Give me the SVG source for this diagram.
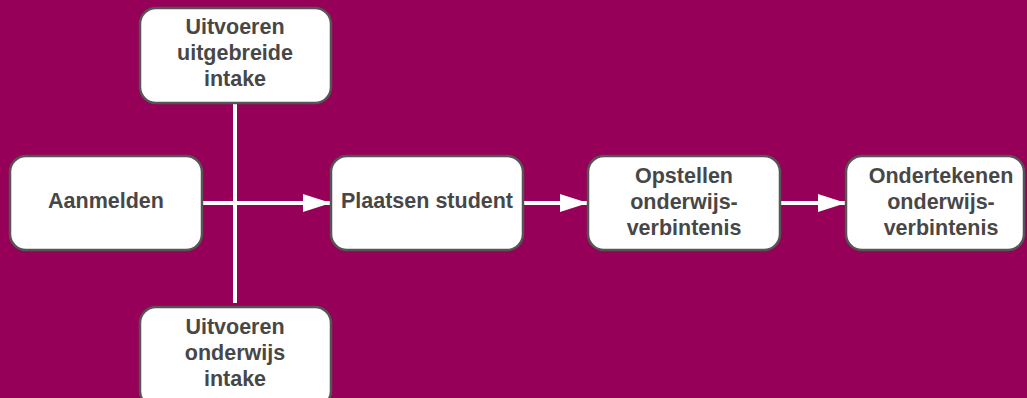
<svg xmlns="http://www.w3.org/2000/svg" width="1027" height="398" viewBox="0 0 1027 398">
<defs>
<style>
.box{fill:#ffffff;stroke:#555555;stroke-width:2.5}
.t{font-family:"Liberation Sans",Arial,sans-serif;font-weight:bold;font-size:21.5px;fill:#474747;text-anchor:middle}
.c{stroke:#ffffff;stroke-width:4;fill:none}
</style>
<marker id="ah" markerUnits="userSpaceOnUse" markerWidth="28" markerHeight="20" refX="27" refY="10" orient="auto">
<path d="M0,1 L28,10 L0,19 Z" fill="#ffffff"/>
</marker>
</defs>
<rect width="1027" height="398" fill="#960058"/>
<g id="connectors">
<line class="c" x1="235" y1="103" x2="235" y2="303"/>
<line class="c" x1="202" y1="203" x2="330" y2="203" marker-end="url(#ah)"/>
<line class="c" x1="523" y1="203" x2="587" y2="203" marker-end="url(#ah)"/>
<line class="c" x1="780" y1="203" x2="845" y2="203" marker-end="url(#ah)"/>
</g>
<g id="n-intake-uitgebreid">
<rect class="box" x="140" y="8" width="191" height="95" rx="16"/>
<text class="t" x="235" y="34">Uitvoeren</text>
<text class="t" x="235" y="60">uitgebreide</text>
<text class="t" x="235" y="86">intake</text>
</g>
<g id="n-aanmelden">
<rect class="box" x="10" y="156" width="192" height="94" rx="16"/>
<text class="t" x="106" y="208">Aanmelden</text>
</g>
<g id="n-plaatsen">
<rect class="box" x="331" y="156" width="192" height="94" rx="16"/>
<text class="t" x="427" y="208">Plaatsen student</text>
</g>
<g id="n-opstellen">
<rect class="box" x="588" y="156" width="192" height="94" rx="16"/>
<text class="t" x="684" y="183">Opstellen</text>
<text class="t" x="684" y="209">onderwijs-</text>
<text class="t" x="684" y="235">verbintenis</text>
</g>
<g id="n-ondertekenen">
<rect class="box" x="846" y="156" width="178" height="94" rx="16"/>
<text class="t" x="941" y="183">Ondertekenen</text>
<text class="t" x="941" y="209">onderwijs-</text>
<text class="t" x="941" y="235">verbintenis</text>
</g>
<g id="n-intake-onderwijs">
<rect class="box" x="140" y="307" width="191" height="100" rx="16"/>
<text class="t" x="235" y="334">Uitvoeren</text>
<text class="t" x="235" y="360">onderwijs</text>
<text class="t" x="235" y="386">intake</text>
</g>
</svg>
